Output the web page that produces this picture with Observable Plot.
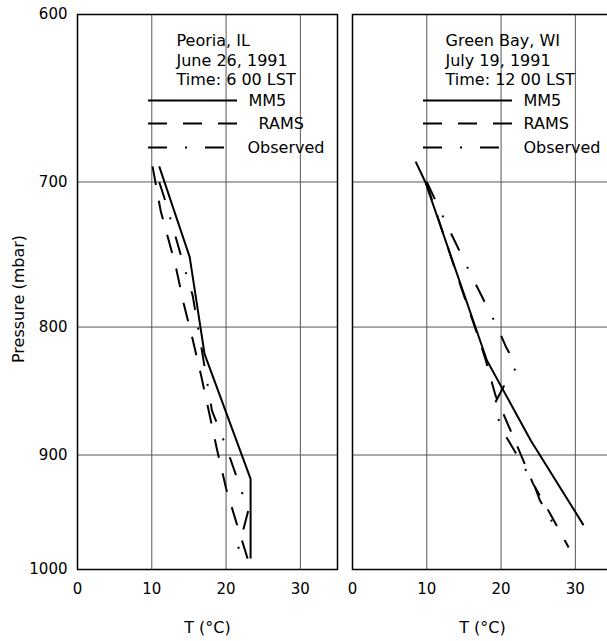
<!DOCTYPE html>
<html><head><meta charset="utf-8">
<script src="https://cdn.jsdelivr.net/npm/d3@7"></script>
<script src="https://cdn.jsdelivr.net/npm/@observablehq/plot@0.6"></script>
<style>
html,body{margin:0;padding:0;background:#fff;overflow:hidden;}
#chart{width:607px;height:641px;overflow:hidden;}
#chart svg{max-width:none !important;width:612px !important;height:641px !important;}
</style></head><body><div id="chart"></div>
<script>
// ---- data ----
const stations = ["Peoria, IL", "Green Bay, WI"];
const stationDates = ["June 26, 1991", "July 19, 1991"];
const stationTimes = ["Time: 6 00 LST", "Time: 12 00 LST"];
const seriesNames = ["MM5", "RAMS", "Observed"];
const xTicks = [0, 10, 20, 30];
const yTicks = [600, 700, 800, 900, 1000];
const xGrid = [10, 20, 30];
const yGrid = [700, 800, 900];

// Peoria, IL
const peoriaMM5T = [11.0, 15.1, 17.1, 23.3, 23.3];
const peoriaMM5P = [690, 750, 820, 920, 990];
const peoriaRAMST = [10.1, 11.2, 13.2, 14.3, 15.5, 16.7, 17.7, 18.8, 20.0, 21.4, 22.9];
const peoriaRAMSP = [690, 719, 756, 783, 809, 838, 865, 896, 928, 958, 990];
const peoriaObsT = [11.0, 11.8, 14.7, 15.5, 18.1, 20.0, 22.6, 23.0, 21.3];
const peoriaObsP = [700, 712, 763, 777, 864, 893, 940, 947, 990];

// Green Bay, WI
const greenBayMM5T = [8.5, 9.8, 18.1, 24.0, 31.1];
const greenBayMM5P = [687, 700, 825, 888, 960];
const greenBayRAMST = [9.9, 13.0, 14.6, 17.1, 17.9, 19.25, 22.2, 24.3, 26.7, 29.1];
const greenBayRAMSP = [700, 746, 771, 810, 824, 852, 893, 924, 951, 980];
const greenBayObsT = [10.0, 12.5, 16.0, 19.5, 20.6, 22.1, 20.8, 19.0, 20.2, 23.0, 24.4, 25.2, 28.0];
const greenBayObsP = [700, 726, 763, 800, 814, 830, 840, 860, 880, 909, 924, 938, 970];

// ---- build table ----
const seriesData = [
  [stations[0], "MM5", peoriaMM5T, peoriaMM5P],
  [stations[0], "RAMS", peoriaRAMST, peoriaRAMSP],
  [stations[0], "Observed", peoriaObsT, peoriaObsP],
  [stations[1], "MM5", greenBayMM5T, greenBayMM5P],
  [stations[1], "RAMS", greenBayRAMST, greenBayRAMSP],
  [stations[1], "Observed", greenBayObsT, greenBayObsP]
];
const rows = seriesData.flatMap(([station, series, T, P]) =>
  T.map((t, i) => ({station, series, T: t, P: P[i]})));

// ---- layout / style ----
const W = 612, H = 641;
const mL = 77, mT = 14, mB = 72, mR = 0;
const panelW = 260, plotH = H - mT - mB;
const xDom = [0, 35], yDom = [600, 1000];
const tx = px => xDom[0] + px / panelW * (xDom[1] - xDom[0]);
const ty = py => yDom[0] * Math.pow(yDom[1] / yDom[0], py / plotH);
const dashes = {MM5: null, RAMS: "19,16", Observed: "19,18,2,18"};
const titleDx = [99, 93];
const titleDy = [26, 46, 65];
const legendDy = [86, 109, 133];
const legendLine = [71, 160];
const legendTextDx = [[171, 181, 170], [171, 171, 171]];
const textSize = 16;

const headerRows = stations.flatMap((s, i) =>
  [s, stationDates[i], stationTimes[i]].map((t, j) =>
    ({station: s, text: t, x: tx(titleDx[i]), y: ty(titleDy[j])})));
const legendRows = stations.flatMap((s, i) =>
  seriesNames.map((name, j) => ({
    station: s, series: name,
    x1: tx(legendLine[0]), x2: tx(legendLine[1]),
    xt: tx(legendTextDx[i][j]), y: ty(legendDy[j])
  })));

const lineMarks = seriesNames.flatMap(name => [
  Plot.line(rows.filter(d => d.series === name), {
    x: "T", y: "P", fx: "station", stroke: "black", strokeWidth: 2,
    strokeDasharray: dashes[name], strokeLinejoin: "miter", strokeLinecap: "butt"
  }),
  Plot.ruleY(legendRows.filter(d => d.series === name), {
    fx: "station", y: "y", x1: "x1", x2: "x2", stroke: "black", strokeWidth: 2,
    strokeDasharray: dashes[name]
  })
]);

const chart = Plot.plot({
  width: W, height: H,
  marginLeft: mL, marginRight: mR, marginTop: mT, marginBottom: mB,
  style: {fontFamily: "'DejaVu Sans', Verdana, sans-serif", fontSize: "15px", color: "black", background: "white"},
  fx: {domain: stations, paddingInner: 15 / 275, paddingOuter: 0, axis: null, label: null},
  x: {domain: xDom, label: null},
  y: {type: "log", domain: yDom, reverse: true, label: null},
  marks: [
    Plot.ruleX(xGrid, {stroke: "#555", strokeWidth: 1}),
    Plot.ruleY(yGrid, {stroke: "#555", strokeWidth: 1}),
    Plot.frame({stroke: "black", strokeWidth: 1.5}),
    Plot.axisX(xTicks, {tickSize: 0, tickPadding: 14, fontSize: 15, label: null}),
    Plot.axisY(yTicks, {tickSize: 0, tickPadding: 10, fontSize: 15, label: null, tickFormat: d => String(d)}),
    ...lineMarks,
    Plot.text(headerRows, {fx: "station", x: "x", y: "y", text: "text", textAnchor: "start", fontSize: textSize}),
    Plot.text(legendRows, {fx: "station", x: "xt", y: "y", text: "series", textAnchor: "start", fontSize: textSize}),
    Plot.text(stations.map(s => ({station: s})), {fx: "station", text: () => "T (°C)", frameAnchor: "bottom", lineAnchor: "middle", dy: 58, fontSize: textSize}),
    Plot.text([{station: stations[0]}], {fx: "station", text: () => "Pressure (mbar)", frameAnchor: "left", textAnchor: "middle", lineAnchor: "middle", rotate: -90, dx: -59, dy: 7, fontSize: textSize})
  ]
});
document.getElementById("chart").appendChild(chart);
</script>
</body></html>
